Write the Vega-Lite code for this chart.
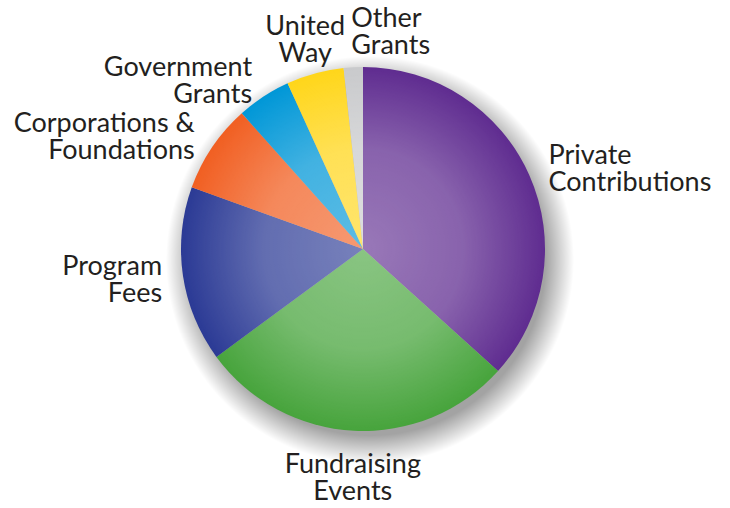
{
  "$schema": "https://vega.github.io/schema/vega-lite/v6.json",
  "width": 726,
  "height": 498,
  "padding": {"left": 0, "top": 0, "right": 4, "bottom": 10},
  "autosize": {"type": "none"},
  "background": "white",
  "config": {"view": {"stroke": null}},
  "data": {
    "values": [
      {"category": "Private Contributions", "label": "Private\nContributions", "value": 36.7},
      {"category": "Fundraising Events", "label": "Fundraising\nEvents", "value": 28.2},
      {"category": "Program Fees", "label": "Program\nFees", "value": 15.6},
      {"category": "Corporations & Foundations", "label": "Corporations &\nFoundations", "value": 7.9},
      {"category": "Government Grants", "label": "Government\nGrants", "value": 4.8},
      {"category": "United Way", "label": "United\nWay", "value": 5.1},
      {"category": "Other Grants", "label": "Other\nGrants", "value": 1.7}
    ]
  },
  "transform": [{"window": [{"op": "row_number", "as": "idx"}]}],
  "layer": [
    {
      "transform": [{"aggregate": [{"op": "sum", "field": "value", "as": "total"}]}],
      "mark": {
        "type": "arc",
        "radius": 204,
        "xOffset": 7,
        "yOffset": 11,
        "color": {
          "gradient": "radial",
          "x1": 0.5, "y1": 0.5, "r1": 0,
          "x2": 0.5, "y2": 0.5, "r2": 0.5,
          "stops": [
            {"offset": 0, "color": "rgba(0,0,0,0.4)"},
            {"offset": 0.86, "color": "rgba(0,0,0,0.36)"},
            {"offset": 1, "color": "rgba(0,0,0,0)"}
          ]
        }
      },
      "encoding": {"theta": {"field": "total", "type": "quantitative", "stack": true}}
    },
    {
      "mark": {"type": "arc", "radius": 182},
      "encoding": {
        "theta": {"field": "value", "type": "quantitative", "stack": true},
        "order": {"field": "idx", "type": "quantitative"},
        "color": {
          "field": "category",
          "type": "nominal",
          "legend": null,
          "scale": {
            "domain": ["Private Contributions", "Fundraising Events", "Program Fees", "Corporations & Foundations", "Government Grants", "United Way", "Other Grants"],
            "range": ["#5f2c90", "#47a43c", "#2b3a95", "#f15f22", "#0097d7", "#ffd61a", "#c9cacc"]
          }
        }
      }
    },
    {
      "transform": [{"aggregate": [{"op": "sum", "field": "value", "as": "total"}]}],
      "mark": {
        "type": "arc",
        "radius": 182,
        "color": {
          "gradient": "radial",
          "x1": 0.5, "y1": 0.5, "r1": 0,
          "x2": 0.5, "y2": 0.5, "r2": 0.5,
          "stops": [
            {"offset": 0, "color": "rgba(255,255,255,0.36)"},
            {"offset": 0.55, "color": "rgba(255,255,255,0.26)"},
            {"offset": 1, "color": "rgba(255,255,255,0)"}
          ]
        }
      },
      "encoding": {"theta": {"field": "total", "type": "quantitative", "stack": true}}
    },
    {
      "transform": [
        {"window": [{"op": "sum", "field": "value", "as": "cum"}], "sort": [{"field": "idx"}], "frame": [null, 0]},
        {"joinaggregate": [{"op": "sum", "field": "value", "as": "total"}]},
        {"calculate": "(datum.cum - datum.value / 2) / datum.total * 2 * PI", "as": "mid"}
      ],
      "mark": {
        "type": "text",
        "radius": {"expr": "203 + 16 * clamp((cos(datum.mid) - 0.85) * 10, 0, 1)"},
        "font": "Lato",
        "fontSize": 27,
        "fontWeight": 400,
        "lineHeight": 27,
        "lineBreak": "\n",
        "color": "#231f20",
        "dy": {"expr": "cos(datum.mid) < -0.85 ? 0 : -11"},
        "align": {"expr": "cos(datum.mid) < -0.85 ? 'center' : (sin(datum.mid) < -0.35 ? 'right' : (sin(datum.mid) > 0.35 ? 'left' : (sin(datum.mid) < -0.15 ? 'center' : 'left')))"},
        "baseline": {"expr": "cos(datum.mid) < -0.85 ? 'top' : 'middle'"}
      },
      "encoding": {
        "theta": {"field": "value", "type": "quantitative", "stack": true},
        "order": {"field": "idx", "type": "quantitative"},
        "text": {"field": "label", "type": "nominal"}
      }
    }
  ]
}
